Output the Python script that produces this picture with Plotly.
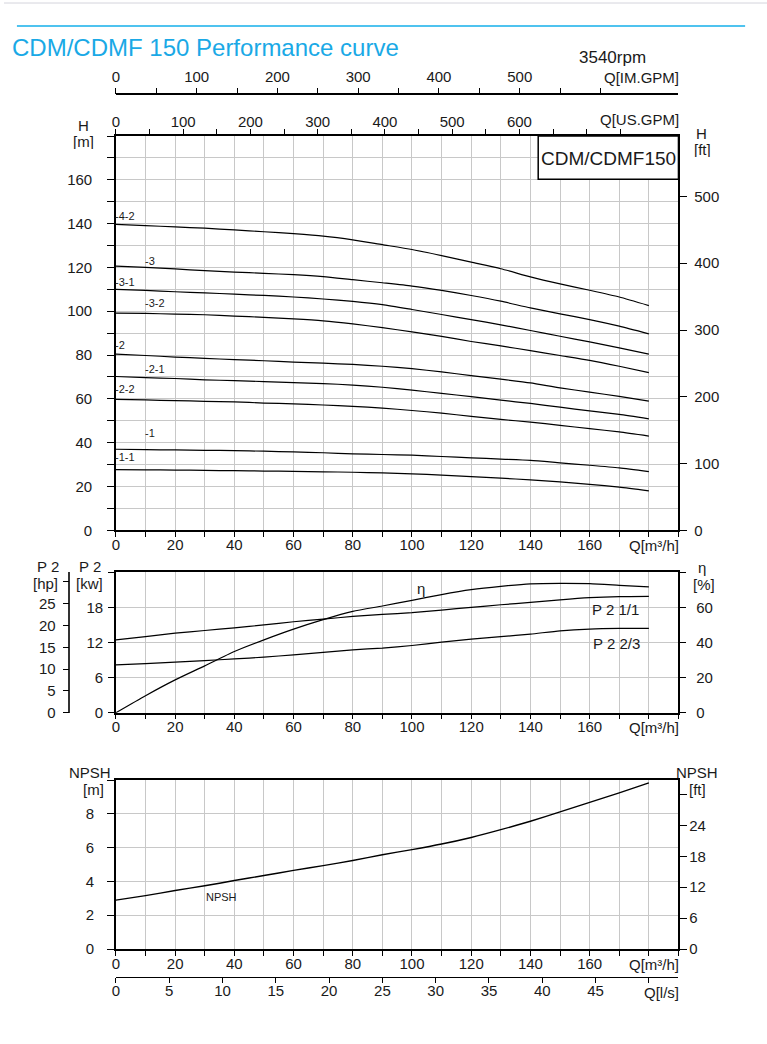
import plotly.graph_objects as go

# ---------------- data ----------------
Q = [0, 10, 20, 30, 40, 50, 60, 70, 80, 90, 100, 110, 120, 130, 140, 150, 160, 170, 180]

H_4_2 = [139.7, 139.1, 138.5, 137.9, 137.1, 136.3, 135.4, 134.3, 132.6, 130.4, 128.2, 125.4, 122.4, 119.4, 115.7, 112.5, 109.6, 106.5, 102.6]
H_3   = [120.6, 120.0, 119.3, 118.5, 117.9, 117.3, 116.7, 115.8, 114.4, 113.0, 111.5, 109.5, 107.2, 104.6, 101.5, 98.8, 96.2, 93.2, 89.7]
H_3_1 = [110.0, 109.5, 108.9, 108.4, 107.8, 107.2, 106.5, 105.6, 104.5, 103.0, 100.8, 98.5, 96.2, 93.8, 91.2, 88.6, 86.0, 83.3, 80.4]
H_3_2 = [99.1, 99.0, 98.7, 98.4, 97.8, 97.2, 96.5, 95.6, 94.2, 92.5, 90.6, 88.5, 86.2, 84.2, 82.0, 79.8, 77.6, 74.9, 72.0]
H_2   = [80.4, 79.8, 79.1, 78.5, 77.9, 77.4, 76.8, 76.3, 75.7, 74.9, 73.8, 72.3, 70.6, 69.0, 67.3, 65.0, 63.1, 61.1, 59.0]
H_2_1 = [70.2, 69.7, 69.3, 68.7, 68.3, 67.9, 67.4, 67.0, 66.3, 65.3, 64.0, 62.5, 61.0, 59.4, 57.9, 56.2, 54.5, 52.9, 50.9]
H_2_2 = [59.8, 59.5, 59.2, 58.9, 58.6, 58.1, 57.7, 57.2, 56.6, 55.8, 54.7, 53.5, 52.0, 50.6, 49.4, 47.9, 46.4, 44.9, 43.0]
H_1   = [37.0, 36.8, 36.7, 36.5, 36.4, 36.1, 35.8, 35.4, 34.9, 34.6, 34.3, 33.7, 33.1, 32.5, 31.9, 30.8, 29.7, 28.5, 26.8]
H_1_1 = [27.7, 27.6, 27.5, 27.35, 27.2, 27.05, 26.9, 26.7, 26.5, 26.2, 25.8, 25.2, 24.5, 23.8, 23.0, 22.1, 21.0, 19.7, 18.0]

head_names = ["-4-2", "-3", "-3-1", "-3-2", "-2", "-2-1", "-2-2", "-1", "-1-1"]
head_curves = [H_4_2, H_3, H_3_1, H_3_2, H_2, H_2_1, H_2_2, H_1, H_1_1]
# label anchor positions (Q, H) for the stage labels
label_q = [0, 10, 0, 10, 0, 10, 0, 10, 0]
label_h = [143.5, 122.8, 113.2, 103.6, 84.8, 73.5, 64.3, 44.2, 33.3]

ETA   = [0, 9.7, 18.7, 26.7, 34.9, 41.5, 47.6, 53.0, 57.7, 60.8, 64.0, 67.3, 70.1, 72.0, 73.4, 73.7, 73.5, 72.6, 71.7]
P2_11 = [12.46, 13.0, 13.6, 14.05, 14.5, 15.0, 15.55, 16.0, 16.46, 16.8, 17.1, 17.55, 18.0, 18.45, 18.86, 19.3, 19.66, 19.85, 19.9]
P2_23 = [8.18, 8.4, 8.64, 8.9, 9.2, 9.5, 9.9, 10.3, 10.75, 11.05, 11.49, 12.05, 12.58, 13.0, 13.44, 14.0, 14.3, 14.4, 14.4]

NPSH = [2.89, 3.16, 3.46, 3.74, 4.05, 4.35, 4.65, 4.93, 5.24, 5.58, 5.88, 6.21, 6.6, 7.06, 7.56, 8.11, 8.68, 9.24, 9.83]

# tick labels
q_ticks = list(range(0, 191, 10))
q_text = [str(v) if (v % 20 == 0 and v <= 160) else "" for v in q_ticks]
h_ticks = list(range(0, 181, 10))
h_text = [str(v) if (v % 20 == 0 and v <= 160) else "" for v in h_ticks]
ft_ticks = [0, 100, 200, 300, 400, 500]
us_ticks = list(range(0, 751, 50))
us_text = [str(v) if (v % 100 == 0 and v <= 600) else "" for v in us_ticks]
im_ticks = list(range(0, 601, 50))
im_text = [str(v) if (v % 100 == 0 and v <= 500) else "" for v in im_ticks]
kw_ticks = [0, 6, 12, 18, 24]
kw_text = ["0", "6", "12", "18", ""]
hp_ticks = [0, 5, 10, 15, 20, 25, 30]
hp_text = ["0", "5", "10", "15", "20", "25", ""]
eta_ticks = [0, 20, 40, 60, 80]
eta_text = ["0", "20", "40", "60", ""]
npsh_ticks = [0, 2, 4, 6, 8, 10]
npsh_text = ["0", "2", "4", "6", "8", ""]
nft_ticks = [0, 6, 12, 18, 24, 30]
nft_text = ["0", "6", "12", "18", "24", ""]
ls_ticks = list(range(0, 51, 5))
ls_text = [str(v) if v <= 45 else "" for v in ls_ticks]

# unit conversions
M_TO_FT = 3.28084
M3H_TO_USGPM = 4.40287
M3H_TO_IMGPM = 3.66615
M3H_TO_LS = 1 / 3.6
KW_TO_HP = 1 / 0.7457

# ---------------- layout geometry (pixels) ----------------
W, HGT = 767, 1044
FIG_H = 1052
def px(x):
    return x / W
def py(y):
    return 1 - y / HGT

X0, X1 = 112.5, 678.0
HEAD = (136.0, 530.3)
POW = (572.3, 712.7)
NPS = (780.0, 949.0)

FONT = "Liberation Sans, Arial, sans-serif"
TXT = "#1a1a1a"
GRID = "#c8c8c8"

fig = go.Figure()

line = dict(color="black", width=1.2, shape="spline", smoothing=0.6)
for name, h in zip(head_names, head_curves):
    fig.add_trace(go.Scatter(x=Q, y=h, mode="lines", line=line, name=name,
                             xaxis="x", yaxis="y", showlegend=False, hoverinfo="skip"))

fig.add_trace(go.Scatter(x=Q, y=P2_11, mode="lines", line=line, xaxis="x2", yaxis="y2",
                         showlegend=False, hoverinfo="skip"))
fig.add_trace(go.Scatter(x=Q, y=P2_23, mode="lines", line=line, xaxis="x2", yaxis="y2",
                         showlegend=False, hoverinfo="skip"))
fig.add_trace(go.Scatter(x=Q, y=ETA, mode="lines", line=line, xaxis="x2", yaxis="y6",
                         showlegend=False, hoverinfo="skip"))
fig.add_trace(go.Scatter(x=Q, y=NPSH, mode="lines", line=dict(color="black", width=1.4, shape="spline", smoothing=0.6),
                         xaxis="x3", yaxis="y3", showlegend=False, hoverinfo="skip"))

# dummy traces so secondary axes get drawn
for xa, ya in [("x4", "y"), ("x5", "y"), ("x", "y4"), ("x2", "y5"), ("x3", "y7"), ("x6", "y3")]:
    fig.add_trace(go.Scatter(x=[None], y=[None], xaxis=xa, yaxis=ya, showlegend=False, hoverinfo="skip"))

tickfont = dict(family=FONT, size=15, color=TXT)

def xax(**kw):
    d = dict(tickfont=tickfont, ticks="outside", ticklen=5, tickwidth=1, tickcolor="black",
             showline=True, linecolor="black", linewidth=1.5, zeroline=False,
             showgrid=True, gridcolor=GRID, gridwidth=1, tickmode="array", fixedrange=True)
    d.update(kw)
    return d

layout = dict(
    width=W, height=FIG_H, margin=dict(l=0, r=0, t=0, b=0),
    paper_bgcolor="white", plot_bgcolor="white",
    font=dict(family=FONT, color=TXT),
    xaxis=xax(domain=[px(X0), px(X1)], range=[0, 190], anchor="y", mirror=True,
              tickvals=q_ticks, ticktext=q_text, ticklabelstandoff=-5),
    yaxis=xax(domain=[py(HEAD[1]), py(HEAD[0])], range=[0, 180], anchor="x", mirror=True,
              tickvals=h_ticks, ticktext=h_text, ticklen=7, ticklabelstandoff=12),
    xaxis2=xax(domain=[px(X0), px(X1)], range=[0, 190], anchor="y2", mirror=True,
               tickvals=q_ticks, ticktext=q_text, ticklabelstandoff=-5),
    yaxis2=xax(domain=[py(POW[1]), py(POW[0])], range=[0, 24], anchor="x2", mirror=True,
               tickvals=kw_ticks, ticktext=kw_text, ticklen=6, ticklabelstandoff=2),
    xaxis3=xax(domain=[px(X0), px(X1)], range=[0, 190], anchor="y3", mirror=True,
               tickvals=q_ticks, ticktext=q_text, ticklabelstandoff=-5),
    yaxis3=xax(domain=[py(NPS[1]), py(NPS[0])], range=[0, 10], anchor="x3", mirror=True,
               tickvals=npsh_ticks, ticktext=npsh_text, ticklen=7, ticklabelstandoff=10),
    # top US GPM axis
    xaxis4=xax(overlaying="x", side="top", anchor="y", range=[0, 190 * M3H_TO_USGPM],
               tickvals=us_ticks, ticktext=us_text, showgrid=False, ticklabelstandoff=-4),
    # top IM GPM axis (free)
    xaxis5=xax(overlaying="x", side="top", anchor="free", position=py(94.3),
               range=[0, 190 * M3H_TO_IMGPM], tickvals=im_ticks, ticktext=im_text,
               showgrid=False, ticklen=6, ticklabelstandoff=0),
    # l/s axis (free, bottom)
    xaxis6=xax(overlaying="x3", side="bottom", anchor="free", position=py(977.3),
               range=[0, 190 * M3H_TO_LS], tickvals=ls_ticks, ticktext=ls_text,
               showgrid=False, linewidth=1.2, ticklabelstandoff=-5),
    # right ft axis for head
    yaxis4=xax(overlaying="y", side="right", anchor="x", range=[0, 180 * M_TO_FT],
               tickvals=ft_ticks, ticktext=[str(v) for v in ft_ticks], showgrid=False,
               ticklen=7, ticklabelstandoff=4),
    # hp axis (free, left)
    yaxis5=xax(overlaying="y2", side="left", anchor="free", position=px(65.7),
               range=[0, 24 * KW_TO_HP], tickvals=hp_ticks, ticktext=hp_text, showgrid=False,
               ticklen=6, linecolor="#333333", linewidth=1.5, ticklabelstandoff=4),
    # eta axis right
    yaxis6=xax(overlaying="y2", side="right", anchor="x2", range=[0, 80],
               tickvals=eta_ticks, ticktext=eta_text, showgrid=False, ticklen=6, ticklabelstandoff=7),
    # NPSH ft axis right
    yaxis7=xax(overlaying="y3", side="right", anchor="x3", range=[0, 10 * M_TO_FT],
               tickvals=nft_ticks, ticktext=nft_text, showgrid=False, ticklen=7, ticklabelstandoff=-1),
)
fig.update_layout(**layout)

anns = []
def ann(text, x, y, size=15, xanchor="center", yanchor="middle", color=TXT, **kw):
    d = dict(text=text, x=px(x), y=py(y), xref="paper", yref="paper", showarrow=False,
             xanchor=xanchor, yanchor=yanchor, font=dict(family=FONT, size=size, color=color))
    d.update(kw)
    anns.append(d)

ann("CDM/CDMF 150 Performance curve", 6, 47, size=24, xanchor="left", color="#1aa9e6")
ann("3540rpm", 612, 57, size=17)
ann("Q[IM.GPM]", 681, 78, xanchor="right")
ann("Q[US.GPM]", 681, 120, xanchor="right")
ann("H", 80, 125.5, height=16)
ann("[m]", 80, 141.5, height=16)
ann("H", 701, 132.5, height=16)
ann("[ft]", 702, 148.5, height=16)
ann("CDM/CDMF150", 607.5, 158.5, size=19)
ann("Q[m³/h]", 681, 545, xanchor="right")
ann("Q[m³/h]", 681, 727, xanchor="right")
ann("Q[m³/h]", 681, 964, xanchor="right")
ann("Q[l/s]", 681, 992, xanchor="right")
ann("P 2", 44, 566, height=17)
ann("[hp]", 42, 583, height=17)
ann("P 2", 86, 566, height=17)
ann("[kw]", 86, 583, height=17)
ann("η", 702, 567, height=17)
ann("[%]", 704, 584, height=17)
ann("η", 419, 588)
ann("P 2 1/1", 615, 609)
ann("P 2 2/3", 616, 643)
ann("NPSH", 86, 772, height=17)
ann("[m]", 90, 789, height=17)
ann("NPSH", 697, 772, height=17)
ann("[ft]", 697, 789, height=17)
ann("NPSH", 219, 897, size=11)

for name, q, h in zip(head_names, label_q, label_h):
    anns.append(dict(text=name, x=q, y=h, xref="x", yref="y", showarrow=False, xshift=-3,
                     xanchor="left", yanchor="middle", font=dict(family=FONT, size=11, color=TXT)))

fig.update_layout(annotations=anns)

shapes = [
    dict(type="line", xref="paper", yref="paper", x0=0, x1=1, y0=py(3), y1=py(3),
         line=dict(color="#d4d4dc", width=1)),
    dict(type="line", xref="paper", yref="paper", x0=px(13), x1=px(745), y0=py(26), y1=py(26),
         line=dict(color="#4fc3ef", width=2)),
    dict(type="rect", xref="paper", yref="paper", x0=px(537), x1=px(X1), y0=py(179.3), y1=py(HEAD[0]),
         line=dict(color="black", width=1.5), fillcolor="white", layer="above"),
]
fig.update_layout(shapes=shapes)

fig.write_html("out.html", config={"displayModeBar": False, "responsive": False},
               post_script="document.body.style.margin='0';document.body.style.overflow='hidden';")
